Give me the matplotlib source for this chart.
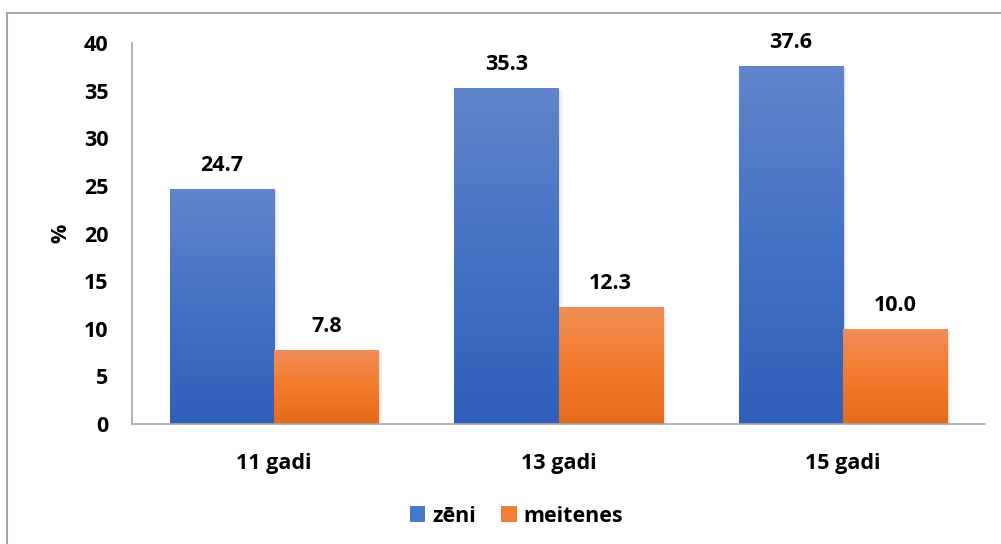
import numpy as np
import matplotlib.pyplot as plt
from matplotlib.patches import Rectangle
from matplotlib.colors import LinearSegmentedColormap

categories = ["11 gadi", "13 gadi", "15 gadi"]
boys = [24.7, 35.3, 37.6]
girls = [7.8, 12.3, 10.0]
series_names = ["zēni", "meitenes"]
yticks = [0, 5, 10, 15, 20, 25, 30, 35, 40]

plt.rcParams['font.family'] = ['Open Sans', 'DejaVu Sans']
plt.rcParams['font.weight'] = 'bold'

FS = 15.5

W, H = 1001, 544
fig = plt.figure(figsize=(W / 100, H / 100), dpi=100)

# outer frame (left and top edges visible)
fig.patches.append(Rectangle((7 / W, -0.1), 2.0, (H - 13) / H + 0.1,
                             transform=fig.transFigure, fill=False,
                             edgecolor='#a6a6a6', linewidth=1.5))

ax = fig.add_axes([132 / W, (H - 424) / H, (985 - 132) / W, (424 - 43) / H])
ax.set_xlim(-0.5, 2.5)
ax.set_ylim(0, 40)

blue_cmap = LinearSegmentedColormap.from_list('b', ['#6184cc', '#4472c4', '#2f5fb8'])
orange_cmap = LinearSegmentedColormap.from_list('o', ['#f08d58', '#f47b2d', '#e56b1a'])

bw = 0.366
x = np.arange(len(categories))
grad = np.linspace(0, 1, 256).reshape(-1, 1)


def gradient_bar(xc, h, cmap):
    x0 = xc - bw / 2
    # soft shadow
    for k, a in enumerate([0.06, 0.04, 0.02]):
        d = 0.006 * (k + 1)
        ax.add_patch(Rectangle((x0 + d, -0.1), bw, h + 0.1 - 0.1 * (k + 1),
                               facecolor='black', alpha=a, edgecolor='none',
                               zorder=1.5))
    r = Rectangle((x0, 0), bw, h, facecolor='none', edgecolor='none', zorder=2)
    ax.add_patch(r)
    im = ax.imshow(grad, extent=(x0, x0 + bw, 0, h), origin='upper',
                   cmap=cmap, aspect='auto', zorder=2)
    im.set_clip_path(r)


for i in range(len(categories)):
    gradient_bar(x[i] - bw / 2, boys[i], blue_cmap)
    gradient_bar(x[i] + bw / 2, girls[i], orange_cmap)
    ax.text(x[i] - bw / 2, boys[i] + 1.85, f"{boys[i]:.1f}", ha='center',
            va='baseline', fontsize=FS, fontweight='bold')
    ax.text(x[i] + bw / 2, girls[i] + 1.85, f"{girls[i]:.1f}", ha='center',
            va='baseline', fontsize=FS, fontweight='bold')

ax.set_xlim(-0.5, 2.5)
ax.set_ylim(0, 40)

for s in ['top', 'right']:
    ax.spines[s].set_visible(False)
ax.spines['left'].set_color('#a6a6a6')
ax.spines['bottom'].set_color('#a6a6a6')
ax.spines['left'].set_linewidth(1.2)
ax.spines['bottom'].set_linewidth(1.2)
ax.spines['left'].set_zorder(3)
ax.spines['bottom'].set_zorder(3)

ax.set_yticks(yticks)
ax.set_yticklabels([str(t) for t in yticks], fontsize=FS, fontweight='bold')
ax.set_xticks(x)
ax.set_xticklabels(categories, fontsize=FS, fontweight='bold')
ax.tick_params(axis='both', length=0)
ax.tick_params(axis='y', pad=17)
ax.tick_params(axis='x', pad=21)
ax.set_ylabel('%', fontsize=FS, fontweight='bold', labelpad=9)

# legend
handles = [Rectangle((0, 0), 1, 1, facecolor='#4a78c8'),
           Rectangle((0, 0), 1, 1, facecolor='#f27f38')]
fig.legend(handles, series_names, loc='center', bbox_to_anchor=(0.516, (H - 516) / H),
           ncol=2, frameon=False, handlelength=0.7, handleheight=0.7,
           handletextpad=0.3, columnspacing=1.2, prop={'weight': 'bold', 'size': FS})

fig.savefig('out.png', dpi=100)
